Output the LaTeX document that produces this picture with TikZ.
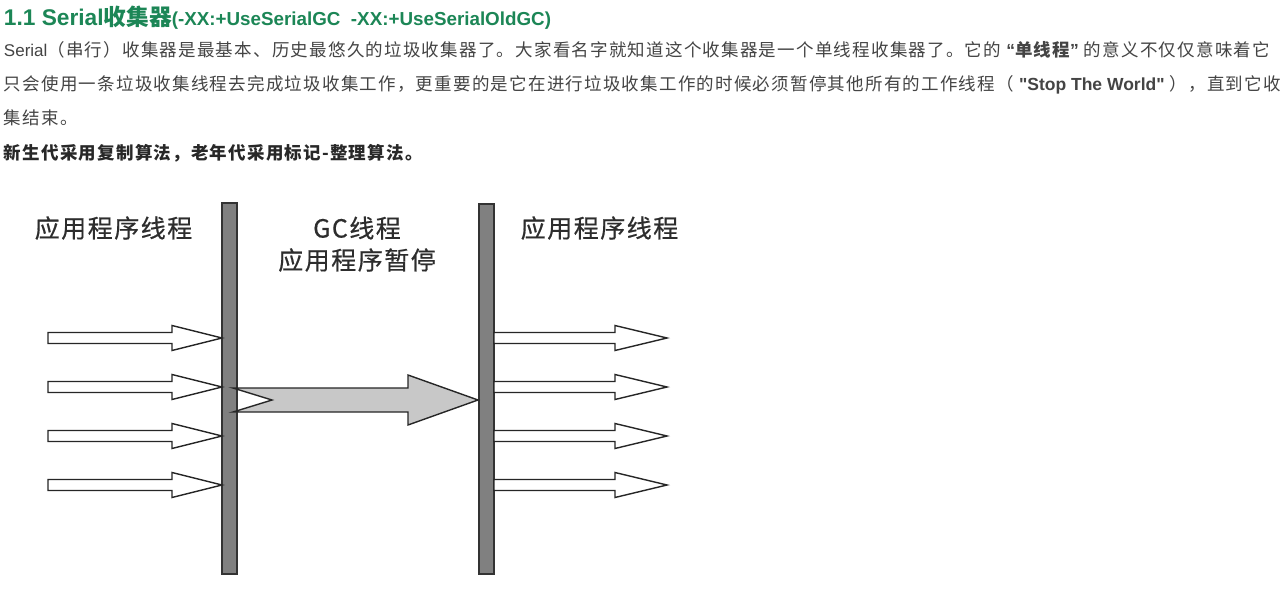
\documentclass[tikz,border=0pt]{standalone}
\usepackage{fontspec}
\setmainfont{Noto Sans CJK SC}[LetterSpace=7]
\newfontfamily\lat{Liberation Sans}
\newfontfamily\cjkh{Noto Sans CJK SC}
\newfontfamily\cjkd{Noto Sans CJK SC}[LetterSpace=6,FakeBold=0.6]
\definecolor{hgreen}{RGB}{28,134,86}
\definecolor{ptext}{RGB}{68,68,68}
\definecolor{btext}{RGB}{40,40,40}
\definecolor{barfill}{RGB}{128,128,128}
\definecolor{bigfill}{RGB}{200,200,200}
\definecolor{dtext}{RGB}{45,45,45}
\begin{document}
\begin{tikzpicture}[x=1pt,y=-1pt,
  txt/.style={anchor=base west,inner sep=0pt,outer sep=0pt},
  para/.style={txt,text=ptext,font=\fontsize{17.5}{20}\selectfont},
  dlabel/.style={inner sep=0pt,text=dtext,font=\cjkd\fontsize{25}{32}\selectfont},
  bar/.style={fill=barfill,draw=black!80,line width=1.8pt},
  thin arrow/.style={fill=white,draw=black!85,line width=1.4pt,line join=miter},
  big arrow/.style={fill=bigfill,draw=black!85,line width=1.4pt,line join=miter}]
\useasboundingbox (0,0) rectangle (1286,597);
\fill[white] (0,0) rectangle (1286,597);
% header
\node[txt,text=hgreen] (title) at (4,25) {\lat\bfseries\fontsize{22.7}{26}\selectfont 1.1 Serial{\cjkh\bfseries\fontsize{22.7}{26}\selectfont 收集器}\fontsize{18.8}{22}\selectfont(-XX:+UseSerialGC\ \ -XX:+UseSerialOldGC)};
% paragraph
\node[para] (l1) at (4,56) {{\lat\fontsize{17}{20}\selectfont Serial}（串行）收集器是最基本、历史最悠久的垃圾收集器了。大家看名字就知道这个收集器是一个单线程收集器了。它的 {\lat\bfseries “}{\bfseries 单线程}{\lat\bfseries ”} 的意义不仅仅意味着它};
\node[para] (l2) at (4,90) {只会使用一条垃圾收集线程去完成垃圾收集工作，更重要的是它在进行垃圾收集工作的时候必须暂停其他所有的工作线程（ {\lat\bfseries\fontsize{17.5}{20}\selectfont "Stop The World"} ），直到它收};
\node[para] (l3) at (4,124) {集结束。};
\node[para,text=btext] (l4) at (4,159) {\bfseries 新生代采用复制算法，老年代采用标记-整理算法。};
% diagram labels
\node[dlabel] (lab1) at (113.5,228) {应用程序线程};
\node[dlabel] (lab2) at (357,228) {GC线程};
\node[dlabel] (lab3) at (357,260) {应用程序暂停};
\node[dlabel] (lab4) at (599.5,228) {应用程序线程};
% bars
\draw[bar] (222,203) rectangle (237,574);
\draw[bar] (479,204) rectangle (494,574);
% arrows
\foreach \yc in {338,387,436,485}{
  \draw[thin arrow] (48,\yc-5.5) -- (172,\yc-5.5) -- (172,\yc-12.5) -- (222,\yc) -- (172,\yc+12.5) -- (172,\yc+5.5) -- (48,\yc+5.5) -- cycle;
  \draw[thin arrow] (494,\yc-5.5) -- (615,\yc-5.5) -- (615,\yc-12.5) -- (667,\yc) -- (615,\yc+12.5) -- (615,\yc+5.5) -- (494,\yc+5.5) -- cycle;
}
% big GC arrow
\draw[big arrow] (233,388) -- (408,388) -- (408,375) -- (478,400) -- (408,425) -- (408,412) -- (233,412) -- (272,400) -- cycle;
\end{tikzpicture}
\end{document}
